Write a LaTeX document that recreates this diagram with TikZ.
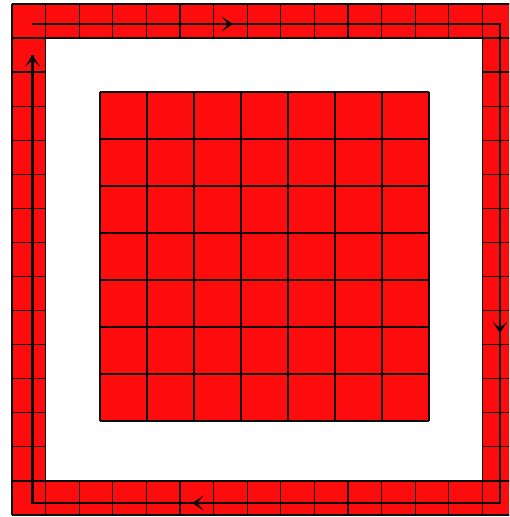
\documentclass[tikz,border=0pt]{standalone}
\usepackage{xcolor}
\usepackage{tikz}
\usetikzlibrary{arrows.meta}
\definecolor{cellred}{RGB}{252,12,12}
\definecolor{mydark}{RGB}{10,10,10}
\tikzset{
  gridline/.style={color=mydark, line width=0.7pt},
  loopline/.style={color=mydark, line width=1.2pt, line join=miter},
  looparrow/.style={-{Stealth[length=6.5pt,width=8.5pt,inset=3.5pt]}, color=mydark, line width=1.2pt}
}

\begin{document}
\begin{tikzpicture}[x=0.672cm, y=0.6814cm]
    \useasboundingbox (-0.24cm,-0.04cm) rectangle (9.94cm,10.30cm);
    \clip (-0.24cm,-0.04cm) rectangle (9.94cm,10.30cm);

    % Outer ring of cells
    \fill[color=cellred] (0,0) rectangle (15,15);
    \fill[white] (1,1) rectangle (14,14);
    \draw[gridline, step={(1,1)}] (0,0) grid (15,1);
    \draw[gridline, step={(1,1)}] (0,14) grid (15,15);
    \draw[gridline, step={(1,1)}] (0,0) grid (1,15);
    \draw[gridline, step={(1,1)}] (14,0) grid (15,15);

    % Inner 7x7 block
    \begin{scope}[shift={(1.76cm,1.88cm)}, x=0.94cm, y=0.94cm]
      \fill[color=cellred] (0,0) rectangle (7,7);
      \draw[gridline, step={(1,1)}] (0,0) grid (7,7);
    \end{scope}

    % Path round the ring
    \coordinate (nw) at (0.61,14.41);
    \coordinate (ne) at (14.52,14.41);
    \coordinate (se) at (14.52,0.352);
    \coordinate (sw) at (0.61,0.352);
    \coordinate (lt) at (0.61,13.50);
    \coordinate (ta) at (6.58,14.41);
    \coordinate (ra) at (14.52,5.34);
    \coordinate (ba) at (5.36,0.352);

    \draw[loopline] (nw) -- (ne) -- (se) -- (sw) -- (lt);
    \draw[looparrow] (nw) -- (ta);
    \draw[looparrow] (ne) -- (ra);
    \draw[looparrow] (se) -- (ba);
    \draw[looparrow] (sw) -- (lt);
  \end{tikzpicture}
\end{document}
